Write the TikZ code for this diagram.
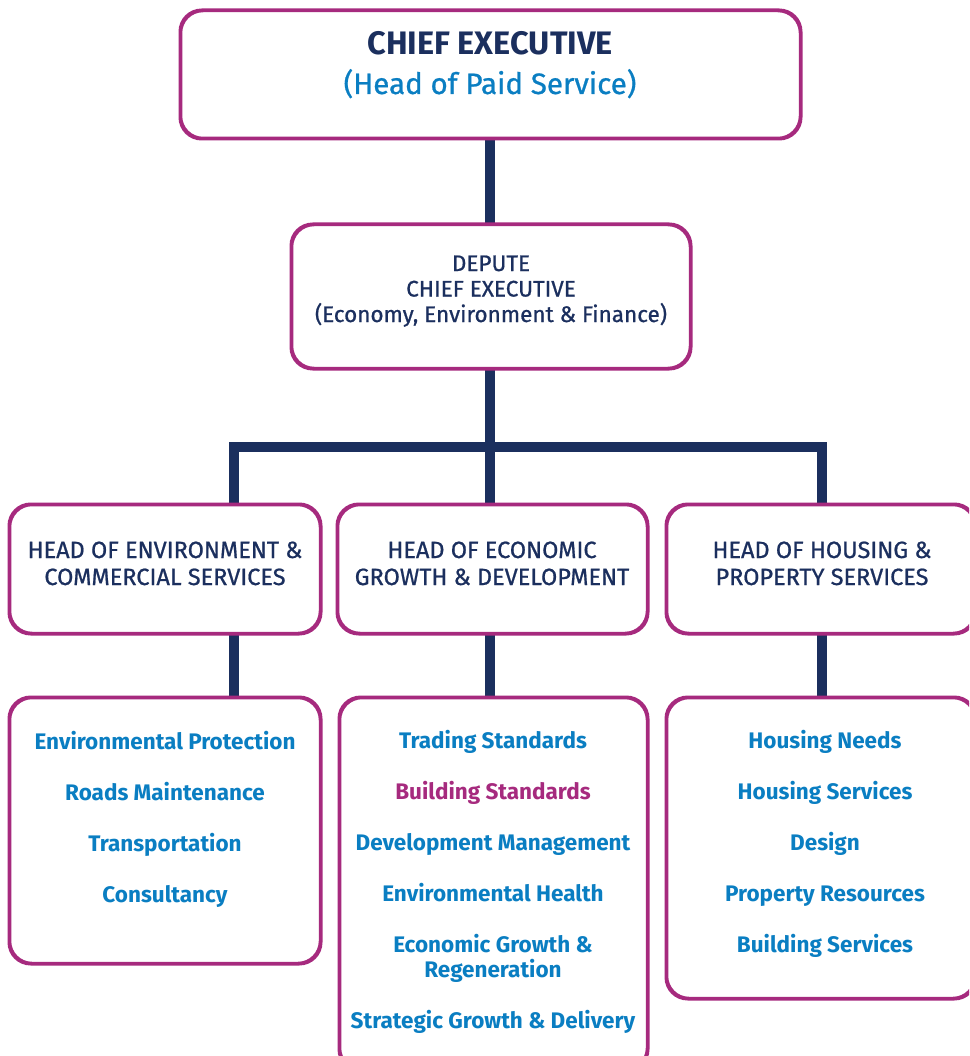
\documentclass[tikz,border=0pt]{standalone}
\usepackage{fontspec}
\setmainfont{Fira Sans}
\newfontfamily\medfont{Fira Sans}[FakeBold=0.8]
\definecolor{navy}{HTML}{1B2F5E}
\definecolor{sky}{HTML}{0A7EC2}
\definecolor{mag}{HTML}{A62A7E}
\tikzset{
  box/.style={draw=mag, line width=2.5pt, rounded corners=22pt, fill=white, inner sep=0pt},
  conn/.style={draw=navy, line width=10pt},
  headtxt/.style={text=navy, font=\medfont\fontsize{23.5}{27}\selectfont, align=center, anchor=base, inner sep=0pt},
  item/.style={text=sky, font=\bfseries\fontsize{22.5}{25}\selectfont, align=center, anchor=base, inner sep=0pt},
}
\begin{document}
\begin{tikzpicture}[x=1pt,y=-1pt]
\useasboundingbox (0,0) rectangle (969,1056);
\clip (0,0) rectangle (969,1056);
\fill[white] (0,0) rectangle (969,1056);
% boxes
\node[box, minimum width=619pt, minimum height=127pt] (ceo) at (490.5,74.5) {};
\node[box, minimum width=398pt, minimum height=143pt] (dep) at (491,296.5) {};
\node[box, minimum width=310pt, minimum height=128pt] (h1) at (165,569) {};
\node[box, minimum width=309pt, minimum height=128pt] (h2) at (492.5,569) {};
\node[box, minimum width=308pt, minimum height=128pt] (h3) at (821,569) {};
\node[box, minimum width=310pt, minimum height=265pt] (b1) at (165,830.5) {};
\node[box, minimum width=307pt, minimum height=372pt] (b2) at (493.5,884) {};
\node[box, minimum width=308pt, minimum height=300pt] (b3) at (821,848) {};
% connectors
\coordinate (jl) at (234,447);
\coordinate (jm) at (490,447);
\coordinate (jr) at (822,447);
\draw[conn] (ceo.south -| jm) -- (dep.north -| jm);
\draw[conn] (dep.south -| jm) -- (h2.north -| jm);
\draw[conn, line join=miter] (h1.north -| jl) -- (jl) -- (jr) -- (h3.north -| jr);
\draw[conn] (h1.south -| jl) -- (b1.north -| jl);
\draw[conn] (h2.south -| jm) -- (b2.north -| jm);
\draw[conn] (h3.south -| jr) -- (b3.north -| jr);
% redraw box borders over connectors
\foreach \n in {ceo,dep,h1,h2,h3,b1,b2,b3}{
  \draw[mag, line width=2.5pt, rounded corners=22pt] (\n.north west) rectangle (\n.south east);
}
% texts
\node[text=navy, font=\bfseries\fontsize{32.5}{36}\selectfont, anchor=base, inner sep=0pt] (t1) at (490,55) {CHIEF EXECUTIVE};
\node[text=sky, font=\medfont\fontsize{29.5}{34}\selectfont, anchor=base, inner sep=0pt] (t2) at (490,94) {(Head of Paid Service)};
\node[headtxt, font=\medfont\fontsize{22.5}{25.5}\selectfont] (t3) at (491,322) {DEPUTE\\CHIEF EXECUTIVE\\(Economy, Environment \& Finance)};
\node[headtxt] (t4) at (165,585) {HEAD OF ENVIRONMENT \&\\COMMERCIAL SERVICES};
\node[headtxt] (t5) at (492,585) {HEAD OF ECONOMIC\\GROWTH \& DEVELOPMENT};
\node[headtxt] (t6) at (822,585) {HEAD OF HOUSING \&\\PROPERTY SERVICES};
% left list
\node[item] (l1) at (165,749) {Environmental Protection};
\node[item] (l2) at (165,800) {Roads Maintenance};
\node[item] (l3) at (165,851) {Transportation};
\node[item] (l4) at (165,902) {Consultancy};
% middle list
\node[item] (m1) at (493,748) {Trading Standards};
\node[item, text=mag] (m2) at (493,799) {Building Standards};
\node[item] (m3) at (493,850) {Development Management};
\node[item] (m4) at (493,901) {Environmental Health};
\node[item] (m5) at (493,977) {Economic Growth \&\\Regeneration};
\node[item] (m6) at (493,1028) {Strategic Growth \& Delivery};
% right list
\node[item] (r1) at (825,748) {Housing Needs};
\node[item] (r2) at (825,799) {Housing Services};
\node[item] (r3) at (825,850) {Design};
\node[item] (r4) at (825,901) {Property Resources};
\node[item] (r5) at (825,952) {Building Services};
\end{tikzpicture}
\end{document}
